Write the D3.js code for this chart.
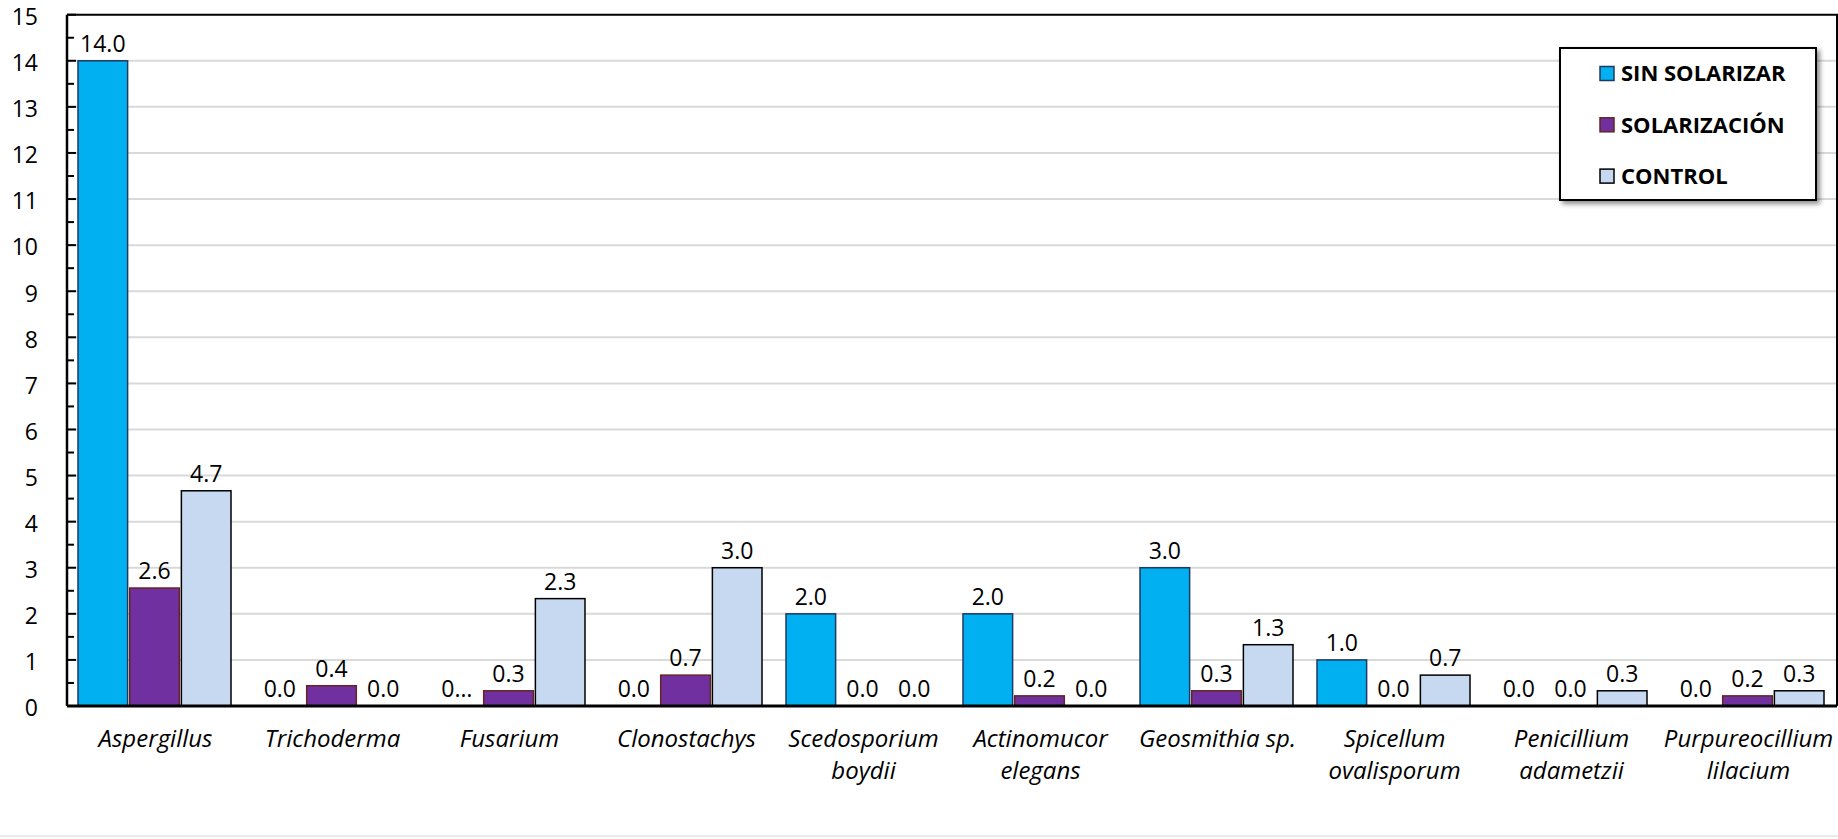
<!DOCTYPE html>
<html>
<head>
<meta charset="utf-8">
<script src="https://cdn.jsdelivr.net/npm/d3@7"></script>
<style>
  html, body { margin: 0; padding: 0; background: #fff; }
  svg { display: block; font-family: "Open Sans", Lato, sans-serif; }
</style>
</head>
<body>
<svg id="chart" width="1838" height="839"></svg>
<script>
// Fungal genera isolated per treatment
const categories = ["Aspergillus", "Trichoderma", "Fusarium", "Clonostachys", "Scedosporium boydii",
  "Actinomucor elegans", "Geosmithia sp.", "Spicellum ovalisporum", "Penicillium adametzii", "Purpureocillium lilacium"];
const seriesNames = ["SIN SOLARIZAR", "SOLARIZACIÓN", "CONTROL"];
const sinSolarizar = [14.0, 0.0, 0.0, 0.0, 2.0, 2.0, 3.0, 1.0, 0.0, 0.0];
const solarizacion = [2.56, 0.44, 0.33, 0.67, 0.0, 0.22, 0.33, 0.0, 0.0, 0.22];
const control = [4.67, 0.0, 2.33, 3.0, 0.0, 0.0, 1.33, 0.67, 0.33, 0.33];
const yTicks = [0, 1, 2, 3, 4, 5, 6, 7, 8, 9, 10, 11, 12, 13, 14, 15];
// value labels shortened because they do not fit next to their neighbours
const clippedLabels = [["Fusarium", "SIN SOLARIZAR"]];

const seriesValues = [sinSolarizar, solarizacion, control];
const fills = ["#00B0F0", "#7030A0", "#C6D9F0"];
const strokes = ["#1F3864", "#632523", "#000000"];

const svg = d3.select("#chart");
const plot = { left: 67, right: 1837, top: 14.7, bottom: 706 };

const x0 = d3.scaleBand().domain(categories).range([plot.left, plot.right]).padding(0);
const x1 = d3.scaleBand().domain(seriesNames).range([11, 164]).paddingInner(0.04).paddingOuter(0);
const y = d3.scaleLinear().domain([0, 15]).range([plot.bottom, plot.top]);

const rows = [];
categories.forEach((c, i) => {
  seriesNames.forEach((s, j) => rows.push({ category: c, series: s, si: j, value: seriesValues[j][i] }));
});

// faint outer chart-area edge
svg.append("line").attr("x1", 0).attr("x2", 1838).attr("y1", 836).attr("y2", 836)
  .attr("stroke", "#e3e3e3").attr("stroke-width", 1.5);

// gridlines
svg.append("g").selectAll("line").data(yTicks.filter(t => t > 0 && t < 15)).join("line")
  .attr("x1", plot.left).attr("x2", plot.right)
  .attr("y1", d => y(d)).attr("y2", d => y(d))
  .attr("stroke", "#d9d9d9").attr("stroke-width", 2);

// plot frame (top and right)
svg.append("path")
  .attr("d", `M${plot.left},${y(15)}H${plot.right}V${plot.bottom}`)
  .attr("fill", "none").attr("stroke", "#000").attr("stroke-width", 2);

// bars
svg.append("g").selectAll("rect").data(rows.filter(d => d.value > 0)).join("rect")
  .attr("x", d => x0(d.category) + x1(d.series))
  .attr("y", d => y(d.value))
  .attr("width", x1.bandwidth())
  .attr("height", d => y(0) - y(d.value))
  .attr("fill", d => fills[d.si])
  .attr("stroke", d => strokes[d.si])
  .attr("stroke-width", 1.5);

// value labels
const fmt = d3.format(".1f");
const isClipped = d => clippedLabels.some(([c, s]) => c === d.category && s === d.series);
svg.append("g").selectAll("text").data(rows).join("text")
  .attr("x", d => x0(d.category) + x1(d.series) + x1.bandwidth() / 2)
  .attr("y", d => y(d.value) - 9)
  .attr("text-anchor", "middle")
  .attr("font-size", 23)
  .attr("fill", "#000")
  .text(d => isClipped(d) ? fmt(d.value).charAt(0) + "\u2026" : fmt(d.value));

// y axis
const yAxis = svg.append("g").attr("transform", `translate(${plot.left},0)`);
yAxis.append("line").attr("x1", 0).attr("x2", 0).attr("y1", y(15)).attr("y2", plot.bottom)
  .attr("stroke", "#000").attr("stroke-width", 2.5);
const minor = d3.range(0.5, 15, 1);
yAxis.selectAll("line.minor").data(minor).join("line").attr("class", "minor")
  .attr("x1", 0).attr("x2", 7).attr("y1", d => y(d)).attr("y2", d => y(d))
  .attr("stroke", "#000").attr("stroke-width", 2);
yAxis.selectAll("line.major").data(yTicks).join("line").attr("class", "major")
  .attr("x1", 0).attr("x2", 9).attr("y1", d => y(d)).attr("y2", d => y(d))
  .attr("stroke", "#000").attr("stroke-width", 2);
yAxis.selectAll("text").data(yTicks).join("text")
  .attr("x", -29).attr("y", d => y(d) + 2).attr("dy", "0.36em")
  .attr("text-anchor", "end").attr("font-size", 23).attr("fill", "#000")
  .text(d => d);

// x axis baseline
svg.append("line").attr("x1", plot.left).attr("x2", plot.right)
  .attr("y1", plot.bottom).attr("y2", plot.bottom)
  .attr("stroke", "#000").attr("stroke-width", 3);

// category labels, wrapped to the category width
const xLabels = svg.append("g").attr("font-size", 24).attr("font-style", "italic").attr("fill", "#000");
categories.forEach(c => {
  const t = xLabels.append("text").attr("text-anchor", "middle")
    .attr("x", x0(c) + x0.bandwidth() / 2).attr("y", 747);
  const words = c.split(" ");
  let lines = [], line = [];
  const probe = t.append("tspan");
  words.forEach(w => {
    const trial = line.concat(w).join(" ");
    probe.text(trial);
    if (line.length && probe.node().getComputedTextLength() > x0.bandwidth() - 6) {
      lines.push(line.join(" "));
      line = [w];
    } else line.push(w);
  });
  lines.push(line.join(" "));
  probe.remove();
  lines.forEach((l, i) => t.append("tspan")
    .attr("x", x0(c) + x0.bandwidth() / 2).attr("dy", i ? 32 : 0).text(l));
});

// legend
const defs = svg.append("defs");
const f = defs.append("filter").attr("id", "shadow").attr("x", "-10%").attr("y", "-10%")
  .attr("width", "130%").attr("height", "130%");
f.append("feDropShadow").attr("dx", 3).attr("dy", 3).attr("stdDeviation", 2.5)
  .attr("flood-color", "#000").attr("flood-opacity", 0.45);

const legend = svg.append("g").attr("transform", "translate(1560,48)");
legend.append("rect").attr("width", 256).attr("height", 152)
  .attr("fill", "#fff").attr("stroke", "#000").attr("stroke-width", 2)
  .attr("filter", "url(#shadow)");
const items = legend.selectAll("g.item").data(seriesNames).join("g").attr("class", "item")
  .attr("transform", (d, i) => `translate(40,${25.5 + i * 51.3})`);
items.append("rect").attr("x", 0).attr("y", -7).attr("width", 14).attr("height", 14)
  .attr("fill", (d, i) => fills[i]).attr("stroke", (d, i) => strokes[i]).attr("stroke-width", 1.5);
items.append("text").attr("x", 21).attr("dy", "0.36em")
  .attr("font-size", 22).attr("font-weight", "bold").attr("fill", "#000")
  .text(d => d);
</script>
</body>
</html>
